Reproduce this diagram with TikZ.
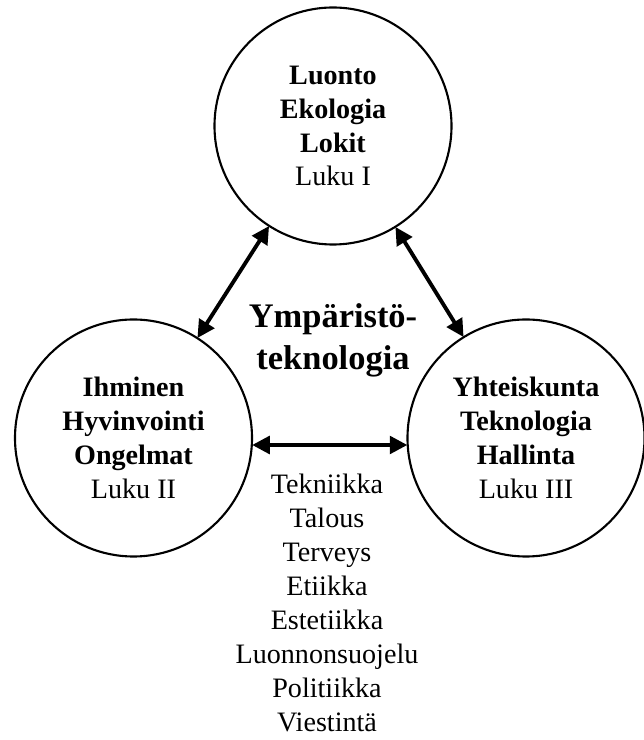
\documentclass[tikz,border=0pt]{standalone}
\usepackage{fontspec}
\setmainfont{Liberation Serif}
\usetikzlibrary{arrows.meta}

\begin{document}
\begin{tikzpicture}[
		area/.style={draw, circle, line width=1.2pt, minimum size=4.74cm, inner sep=0pt, align=center, font=\fontsize{16}{19.3}\selectfont},
		link/.style={line width=2.2pt, {Triangle[length=10pt,width=10pt]}-{Triangle[length=10pt,width=10pt]}, shorten <=-0.5pt, shorten >=-0.5pt}]
		\useasboundingbox (0,0) rectangle (12.88,14.8);

		\node [area] (luonto) at (6.66,12.28) {\textbf{Luonto}\\\textbf{Ekologia}\\\textbf{Lokit}\\Luku I};
		\node [area] (ihminen) at (2.67,6.04) {\textbf{Ihminen}\\\textbf{Hyvinvointi}\\\textbf{Ongelmat}\\Luku II};
		\node [area] (yhteiskunta) at (10.52,6.04) {\textbf{Yhteiskunta}\\\textbf{Teknologia}\\\textbf{Hallinta}\\Luku III};

		\node [align=center, font=\fontsize{19.6}{23.8}\selectfont\bfseries] (aihe) at (6.66,8.0) {Ympäristö-\\teknologia};

		\node [align=center, font=\fontsize{16}{19.3}\selectfont] (osa) at (6.54,2.74) {Tekniikka\\Talous\\Terveys\\Etiikka\\Estetiikka\\Luonnonsuojelu\\Politiikka\\Viestintä};

		\draw [link] (luonto) -- (ihminen);
		\draw [link] (luonto) -- (yhteiskunta);
		\draw [link] ([yshift=-0.14cm]ihminen.east) -- ([yshift=-0.14cm]yhteiskunta.west);

	\end{tikzpicture}
\end{document}
